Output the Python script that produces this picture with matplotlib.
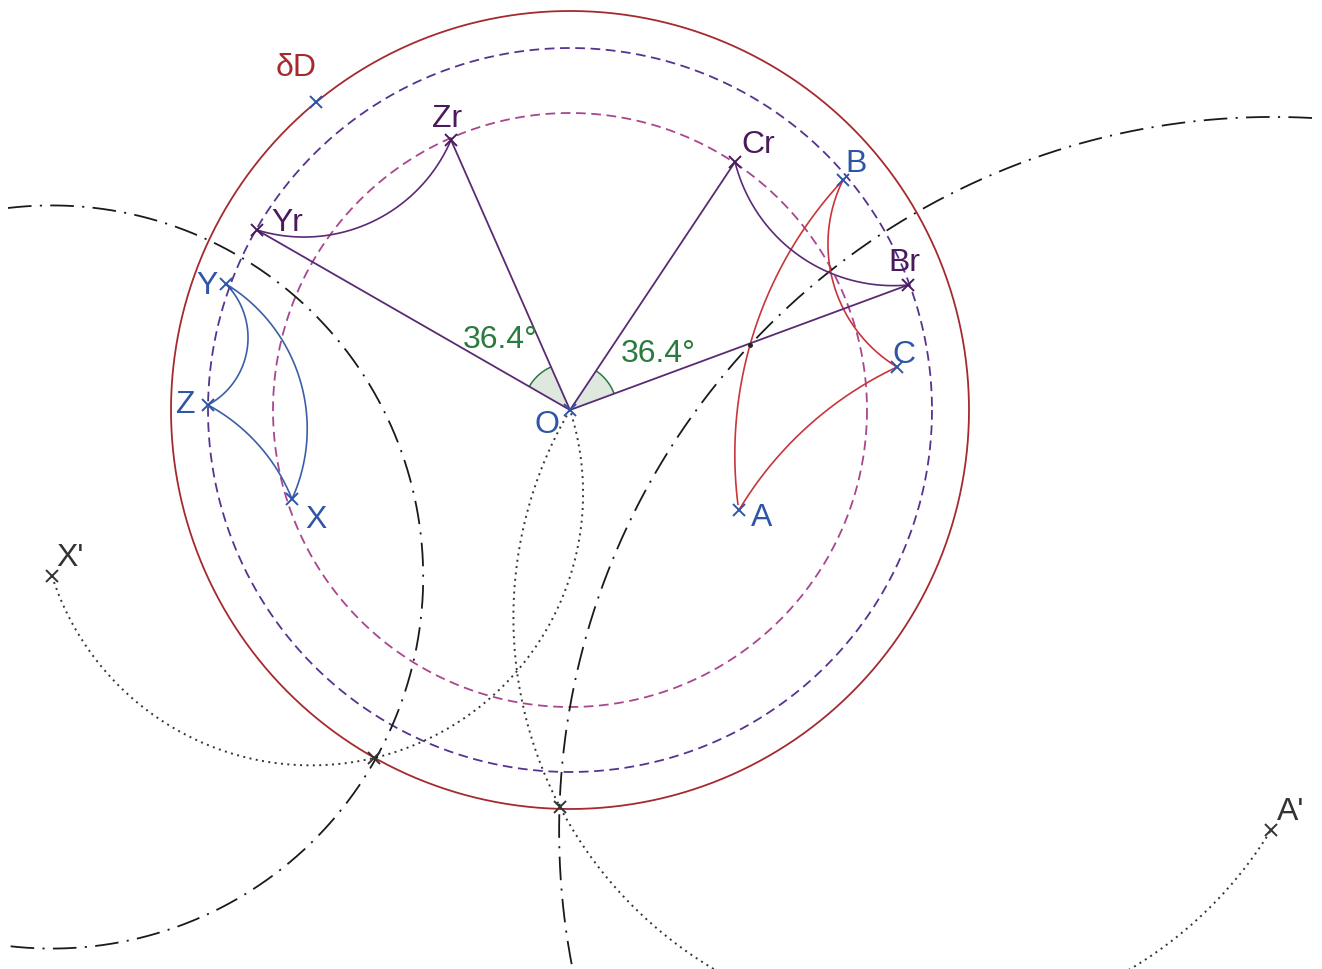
import numpy as np
import matplotlib
matplotlib.use("Agg")
import matplotlib.pyplot as plt

plt.rcParams.update({
    "font.family": ["Liberation Sans", "DejaVu Sans"],
    "lines.scale_dashes": False,
    "lines.solid_capstyle": "butt",
})

# everything, in image pixels
POINT_NAMES = ["O", "Yr", "Zr", "Cr", "Br", "B", "C", "A", "X", "Y", "Z", "D", "X'", "A'", "P1", "P2", "M"]
POINT_X = [570, 257, 451, 735, 908, 843, 897, 739, 292, 226, 208, 316, 52, 1271, 374, 560, 750]
POINT_Y = [410, 230, 140, 162, 285, 180, 367, 510, 499, 284, 405, 102, 576, 830, 758, 807, 345]
P = {n: (x, y) for n, x, y in zip(POINT_NAMES, POINT_X, POINT_Y)}

RADII = [399, 362, 297]
ANGLE_LABEL = "36.4°"

# arcs: start, a point on the way, end
PURPLE_ARCS = [(P["Yr"], (400, 205), P["Zr"]), (P["Cr"], (828, 272), P["Br"])]
BLUE_ARCS = [(P["Y"], (248, 340), P["Z"]), (P["Y"], (307, 420), P["X"]), (P["Z"], (250, 436), P["X"])]
RED_ARCS = [(P["B"], P["M"], (738, 505)), (P["B"], (845, 312), P["C"]), (P["A"], (815, 420), P["C"])]
DASHDOT_ARCS = [((8, 208), (423, 565), (8, 946)), ((1312, 118), P["M"], (572, 966))]
DOTTED_ARCS = [(P["X'"], P["P1"], P["O"]), (P["O"], P["P2"], P["A'"])]

LABELS = ["δD", "Zr", "Yr", "Y", "Z", "X", "O", "Cr", "B", "Br", "C", "A", "X'", "A'"]
LABEL_X = [296, 447, 287, 207, 186, 316, 547, 758, 856, 904, 904, 762, 70, 1291]
LABEL_Y = [68, 119, 223, 286, 405, 520, 425, 145, 164, 263, 355, 518, 558, 812]

RED = "#A52A30"
PURPLE = "#5A2A74"
DARK_PURPLE = "#4A1B5C"
PINK = "#A8468F"
VIOLET = "#55348F"
BLUE = "#2F55A8"
GREEN = "#2B7A3E"
GREY = "#333333"

LABEL_COLORS = [RED, DARK_PURPLE, DARK_PURPLE, BLUE, BLUE, BLUE, BLUE, DARK_PURPLE,
                BLUE, DARK_PURPLE, BLUE, BLUE, GREY, GREY]


def arc_points(p0, p1, p2, n=400):
    # circle through three points, swept from p0 to p2 by way of p1
    ax_, ay = p0
    bx, by = p1
    cx, cy = p2
    d = 2 * (ax_ * (by - cy) + bx * (cy - ay) + cx * (ay - by))
    ux = ((ax_**2 + ay**2) * (by - cy) + (bx**2 + by**2) * (cy - ay) + (cx**2 + cy**2) * (ay - by)) / d
    uy = ((ax_**2 + ay**2) * (cx - bx) + (bx**2 + by**2) * (ax_ - cx) + (cx**2 + cy**2) * (bx - ax_)) / d
    r = np.hypot(ax_ - ux, ay - uy)
    a0 = np.arctan2(ay - uy, ax_ - ux)
    a1 = (np.arctan2(by - uy, bx - ux) - a0) % (2 * np.pi)
    a2 = (np.arctan2(cy - uy, cx - ux) - a0) % (2 * np.pi)
    if a1 > a2:
        a2 = a2 - 2 * np.pi
    t = a0 + np.linspace(0, a2, n)
    return ux + r * np.cos(t), uy + r * np.sin(t)


def draw_arcs(ax, arcs, **kw):
    for arc in arcs:
        xs, ys = arc_points(*arc)
        ax.plot(xs, ys, **kw)


def draw_crosses(ax, names, color):
    ax.plot([P[n][0] for n in names], [P[n][1] for n in names], ls="none", marker="x",
            ms=8.5, mew=1.4, color=color, zorder=6)


def angle_wedge(ax, p1, p2, radius=47):
    ox, oy = P["O"]
    a1 = np.arctan2(p1[1] - oy, p1[0] - ox)
    a2 = np.arctan2(p2[1] - oy, p2[0] - ox)
    t = np.linspace(a1, a2, 40)
    xs, ys = ox + radius * np.cos(t), oy + radius * np.sin(t)
    ax.fill(np.r_[ox, xs], np.r_[oy, ys], color="#DFE8DF", lw=0, zorder=1)
    ax.plot(xs, ys, color=GREEN, lw=1.1, zorder=2)


fig = plt.figure(figsize=(13.22, 9.69), dpi=100)
ax = fig.add_axes([0, 0, 1, 1])
ax.set_xlim(0, 1322)
ax.set_ylim(969, 0)
ax.axis("off")

t = np.linspace(0, 2 * np.pi, 720)
ox, oy = P["O"]
styles = [
    dict(color=RED, lw=1.3),
    dict(color=VIOLET, lw=1.3, ls=(0, (7, 4))),
    dict(color=PINK, lw=1.3, ls=(0, (7, 4))),
]
for r, style in zip(RADII, styles):
    ax.plot(ox + r * np.cos(t), oy + r * np.sin(t), **style)

angle_wedge(ax, P["Yr"], P["Zr"])
angle_wedge(ax, P["Cr"], P["Br"])

draw_arcs(ax, DOTTED_ARCS, color=GREY, lw=1.4, ls=(0, (1.4, 3.2)))
draw_arcs(ax, DASHDOT_ARCS, color="#1A1A1A", lw=1.3, ls=(0, (17, 6, 1.5, 6)))
draw_arcs(ax, RED_ARCS, color="#C8353B", lw=1.2)
draw_arcs(ax, BLUE_ARCS, color="#3A5FA8", lw=1.2)
draw_arcs(ax, PURPLE_ARCS, color=PURPLE, lw=1.2)

for name in ["Yr", "Zr", "Cr", "Br"]:
    ax.plot([ox, P[name][0]], [oy, P[name][1]], color=PURPLE, lw=1.3, zorder=3)

draw_crosses(ax, ["O", "B", "C", "A", "X", "Y", "Z", "D"], BLUE)
draw_crosses(ax, ["Yr", "Zr", "Cr", "Br"], DARK_PURPLE)
draw_crosses(ax, ["X'", "A'", "P1", "P2"], GREY)
ax.plot(*P["M"], marker="o", ms=2.5, color="#222222", zorder=6)

for label, x, y, color in zip(LABELS, LABEL_X, LABEL_Y, LABEL_COLORS):
    ax.text(x, y, label, color=color, fontsize=23, ha="center", va="center", zorder=7)
ax.text(500, 340, ANGLE_LABEL, color=GREEN, fontsize=23, ha="center", va="center", zorder=7)
ax.text(658, 354, ANGLE_LABEL, color=GREEN, fontsize=23, ha="center", va="center", zorder=7)

fig.savefig("out.png", dpi=100, facecolor="white")
